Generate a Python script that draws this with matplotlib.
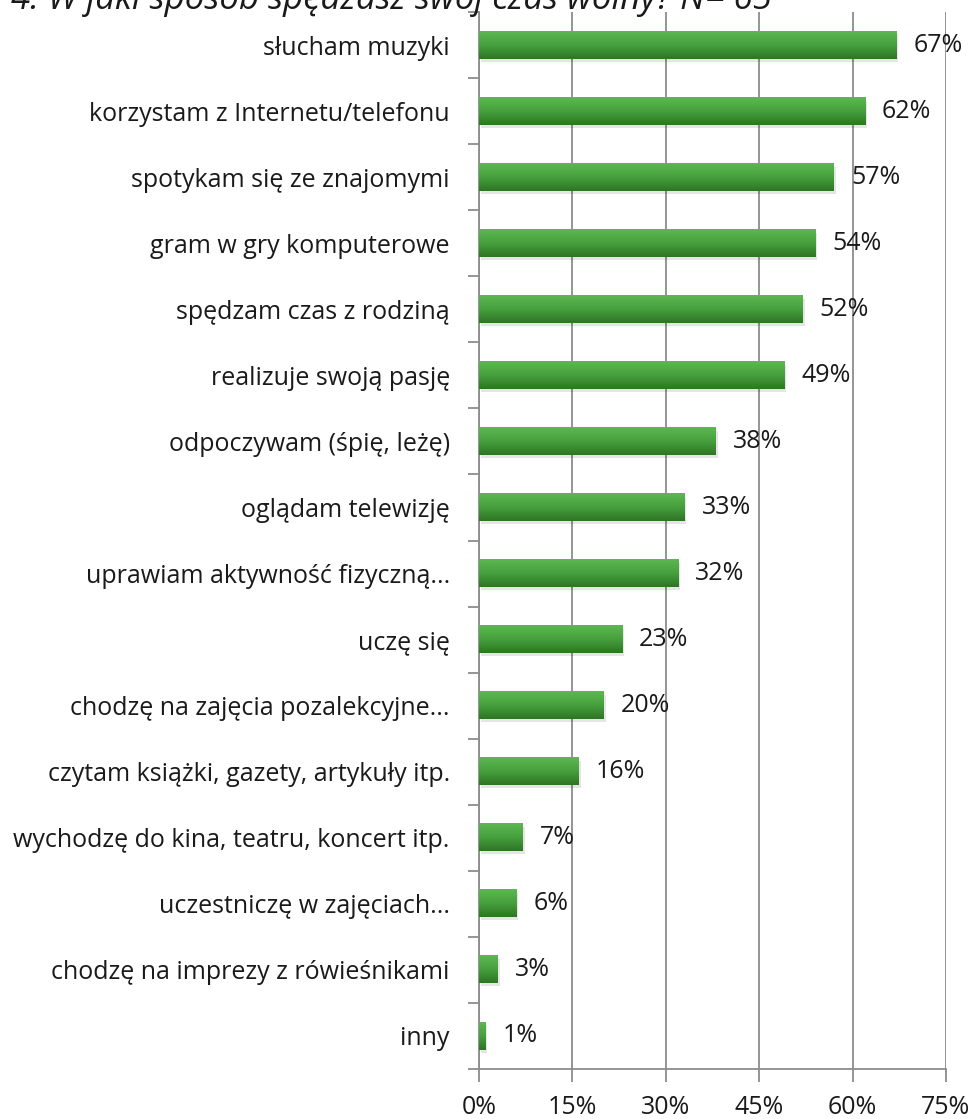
import numpy as np
import matplotlib
matplotlib.use("Agg")
import matplotlib.pyplot as plt
import matplotlib.transforms as mtransforms
from matplotlib.colors import LinearSegmentedColormap

categories = [
    "słucham muzyki",
    "korzystam z Internetu/telefonu",
    "spotykam się ze znajomymi",
    "gram w gry komputerowe",
    "spędzam czas z rodziną",
    "realizuje swoją pasję",
    "odpoczywam (śpię, leżę)",
    "oglądam telewizję",
    "uprawiam aktywność fizyczną...",
    "uczę się",
    "chodzę na zajęcia pozalekcyjne...",
    "czytam książki, gazety, artykuły itp.",
    "wychodzę do kina, teatru, koncert itp.",
    "uczestniczę w zajęciach...",
    "chodzę na imprezy z rówieśnikami",
    "inny",
]
values = [67, 62, 57, 54, 52, 49, 38, 33, 32, 23, 20, 16, 7, 6, 3, 1]
xticks = [0, 15, 30, 45, 60, 75]
xtick_labels = ["0%", "15%", "30%", "45%", "60%", "75%"]
title = "4. W jaki sposób spędzasz swój czas wolny? N= 65"

plt.rcParams['font.family'] = ['Open Sans', 'DejaVu Sans']
FS = 18

fig = plt.figure(figsize=(9.75, 11.19), dpi=100)
ax = fig.add_axes([479/975, 50/1119, 467/975, 1057/1119])

n = len(categories)
ypos = np.arange(n)
bar_h = 0.41
cmap = LinearSegmentedColormap.from_list("g", ["#5db853", "#46a03c", "#2e7524"])
grad = np.linspace(0, 1, 64).reshape(-1, 1)

shadow_tr = mtransforms.offset_copy(ax.transData, fig=fig, x=2, y=-3, units='dots')
label_tr = mtransforms.offset_copy(ax.transData, fig=fig, x=17, y=0, units='dots')
for y, v in zip(ypos, values):
    ax.barh(y, v, height=bar_h, color="#000000", alpha=0.10, transform=shadow_tr, zorder=2)
    ax.imshow(grad, cmap=cmap, aspect='auto', extent=(0, v, y + bar_h/2, y - bar_h/2),
              zorder=3, interpolation='bilinear')
    ax.text(v, y, f"{v}%", ha='left', va='center', fontsize=FS, color='#1a1a1a', zorder=4,
            transform=label_tr)

ax.set_xlim(0, 75)
ax.set_ylim(n - 0.5, -0.5)
ax.set_aspect('auto')

ax.set_xticks(xticks)
ax.set_xticklabels(xtick_labels, fontsize=FS, color='#1a1a1a')
ax.set_yticks(ypos)
ax.set_yticklabels(categories, fontsize=FS, color='#1a1a1a')
ax.set_yticks(np.arange(-0.5, n, 1.0), minor=True)
ax.tick_params(axis='y', which='major', length=0, pad=21)
ax.tick_params(axis='y', which='minor', length=8, width=1.3, color='#8c8c8c', direction='out')
ax.tick_params(axis='x', which='major', length=9, width=1.3, color='#8c8c8c', direction='out', pad=10)

ax.grid(axis='x', color='#8c8c8c', linewidth=1.3, zorder=0)
ax.set_axisbelow(True)
for s in ['top', 'right']:
    ax.spines[s].set_visible(False)
for s in ['left', 'bottom']:
    ax.spines[s].set_color('#8c8c8c')
    ax.spines[s].set_linewidth(1.3)

fig.text(772/975, 1 - 9/1119, title, ha='right', va='baseline', fontsize=25,
         style='italic', color='#1a1a1a')

fig.savefig("out.png", dpi=100)
